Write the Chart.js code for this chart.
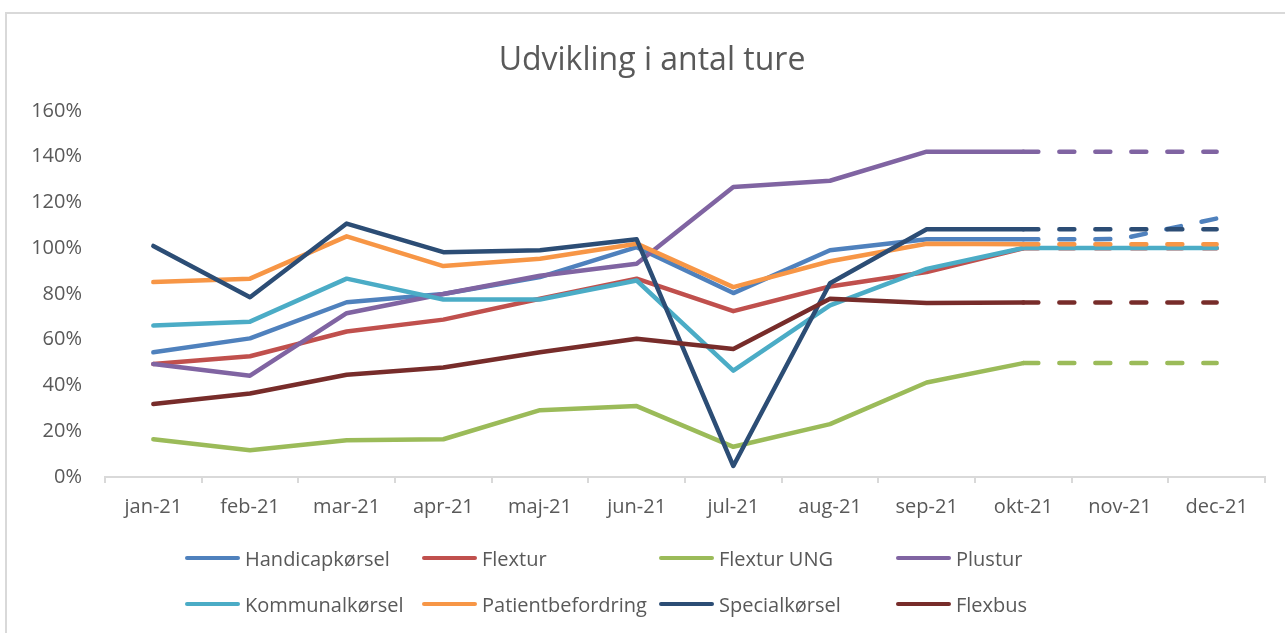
<!DOCTYPE html>
<html lang="da">
<head>
<meta charset="utf-8">
<title>Udvikling i antal ture</title>
<script src="https://cdn.jsdelivr.net/npm/chart.js@4.4.1/dist/chart.umd.min.js"></script>
<style>
    html, body { margin: 0; padding: 0; background: #fff; }
    #wrap { position: relative; width: 1285px; height: 633px; overflow: hidden; }
    #frame { position: absolute; left: 5px; top: 12px; width: 1300px; height: 640px;
             border-left: 2px solid #d9d9d9; border-top: 2px solid #d9d9d9; }
    #chart { position: absolute; left: 0; top: 0; }
    #title { position: absolute; left: 0; top: 39px; width: 1304px; text-align: center;
             font-family: 'Open Sans', sans-serif; font-size: 32px; line-height: 37px; color: #595959; }
    #legend { position: absolute; left: 185px; top: 535px;
              display: grid; grid-template-columns: repeat(4, 237px); grid-auto-rows: 46px;
              font-family: 'Open Sans', sans-serif; font-size: 20px; color: #595959; }
    #legend .item { display: flex; align-items: center; white-space: nowrap; }
    #legend .swatch { width: 55px; height: 4.5px; border-radius: 3px; margin-right: 5px; }
</style>
</head>
<body>
<div id="wrap">
    <div id="frame"></div>
    <canvas id="chart" width="1285" height="633"></canvas>
    <div id="title">Udvikling i antal ture</div>
    <div id="legend"></div>
</div>
<script>
// Måneder og serier (procent af niveau)
const maaneder = ['jan-21', 'feb-21', 'mar-21', 'apr-21', 'maj-21', 'jun-21',
                  'jul-21', 'aug-21', 'sep-21', 'okt-21', 'nov-21', 'dec-21'];

const handicapkoersel   = [54.5, 60.6, 76.4, 80.0, 87.4, 100.5, 80.4, 99.1, 103.9, 103.9, 104.0, 113.0];
const flextur           = [49.4, 52.8, 63.6, 68.8, 77.9, 86.7, 72.5, 83.3, 89.6, 100.0, 100.0, 100.0];
const flexturUng        = [16.5, 11.7, 16.1, 16.5, 29.2, 31.0, 13.2, 23.1, 41.3, 49.8, 49.8, 49.8];
const plustur           = [49.4, 44.3, 71.6, 80.0, 88.0, 93.2, 126.8, 129.5, 142.2, 142.2, 142.2, 142.2];
const kommunalkoersel   = [66.2, 67.9, 86.7, 77.6, 77.6, 85.9, 46.5, 75.0, 91.0, 100.1, 100.1, 100.1];
const patientbefordring = [85.2, 86.7, 105.2, 92.2, 95.4, 102.0, 83.0, 94.3, 102.0, 101.7, 101.7, 101.7];
const specialkoersel    = [101.0, 78.6, 110.8, 98.3, 99.1, 103.9, 4.8, 84.7, 108.3, 108.3, 108.3, 108.3];
const flexbus           = [31.9, 36.5, 44.7, 47.9, 54.5, 60.4, 56.0, 77.9, 76.1, 76.3, 76.3, 76.3];

const serieNavne = ['Handicapkørsel', 'Flextur', 'Flextur UNG', 'Plustur',
                    'Kommunalkørsel', 'Patientbefordring', 'Specialkørsel', 'Flexbus'];
const serieData  = [handicapkoersel, flextur, flexturUng, plustur,
                    kommunalkoersel, patientbefordring, specialkoersel, flexbus];
const farver     = ['#4f81bd', '#c0504d', '#9bbb59', '#8064a2',
                    '#4bacc6', '#f79646', '#2c4d75', '#772c2a'];
// prognose (stiplet) fra okt-21 og frem
const prognose   = [true, true, true, true, false, true, true, true];
const prognoseFra = 9;

const yTicks = [0, 20, 40, 60, 80, 100, 120, 140, 160];

const fontFamily = "'Open Sans', sans-serif";
const tekstFarve = '#595959';

const datasets = serieNavne.map((navn, i) => ({
    label: navn,
    data: serieData[i],
    borderColor: farver[i],
    backgroundColor: farver[i],
    borderWidth: 4.5,
    borderCapStyle: 'round',
    borderJoinStyle: 'round',
    pointRadius: 0,
    tension: 0,
    fill: false,
    order: serieNavne.length - i,
    segment: {
        borderDash: ctx => (prognose[i] && ctx.p0DataIndex >= prognoseFra) ? [15, 21] : undefined
    }
}));

new Chart(document.getElementById('chart'), {
    type: 'line',
    data: { labels: maaneder, datasets: datasets },
    options: {
        responsive: false,
        animation: false,
        devicePixelRatio: 1,
        layout: { padding: { left: 0, right: 20, top: 111, bottom: 0 } },
        plugins: {
            legend: { display: false },
            tooltip: { enabled: false },
            title: { display: false }
        },
        scales: {
            x: {
                offset: true,
                afterFit: s => { s.height = 156; },
                border: { display: true, color: '#d9d9d9', width: 2 },
                grid: { offset: true, drawOnChartArea: false, drawTicks: true,
                        tickLength: 6, color: '#d9d9d9', lineWidth: 2 },
                ticks: { color: tekstFarve, padding: 12, maxRotation: 0,
                         font: { family: fontFamily, size: 20 } }
            },
            y: {
                min: 0,
                max: 160,
                afterFit: s => { s.width = 105; },
                afterBuildTicks: s => { s.ticks = yTicks.map(v => ({ value: v })); },
                border: { display: false },
                grid: { display: false, drawTicks: false },
                ticks: { color: tekstFarve, padding: 23,
                         font: { family: fontFamily, size: 20 },
                         callback: v => v + '%' }
            }
        }
    }
});

// forklaring i 4 kolonner
const legendEl = document.getElementById('legend');
serieNavne.forEach((navn, i) => {
    const item = document.createElement('div');
    item.className = 'item';
    const sw = document.createElement('span');
    sw.className = 'swatch';
    sw.style.background = farver[i];
    const txt = document.createElement('span');
    txt.textContent = navn;
    item.appendChild(sw);
    item.appendChild(txt);
    legendEl.appendChild(item);
});
</script>
</body>
</html>
